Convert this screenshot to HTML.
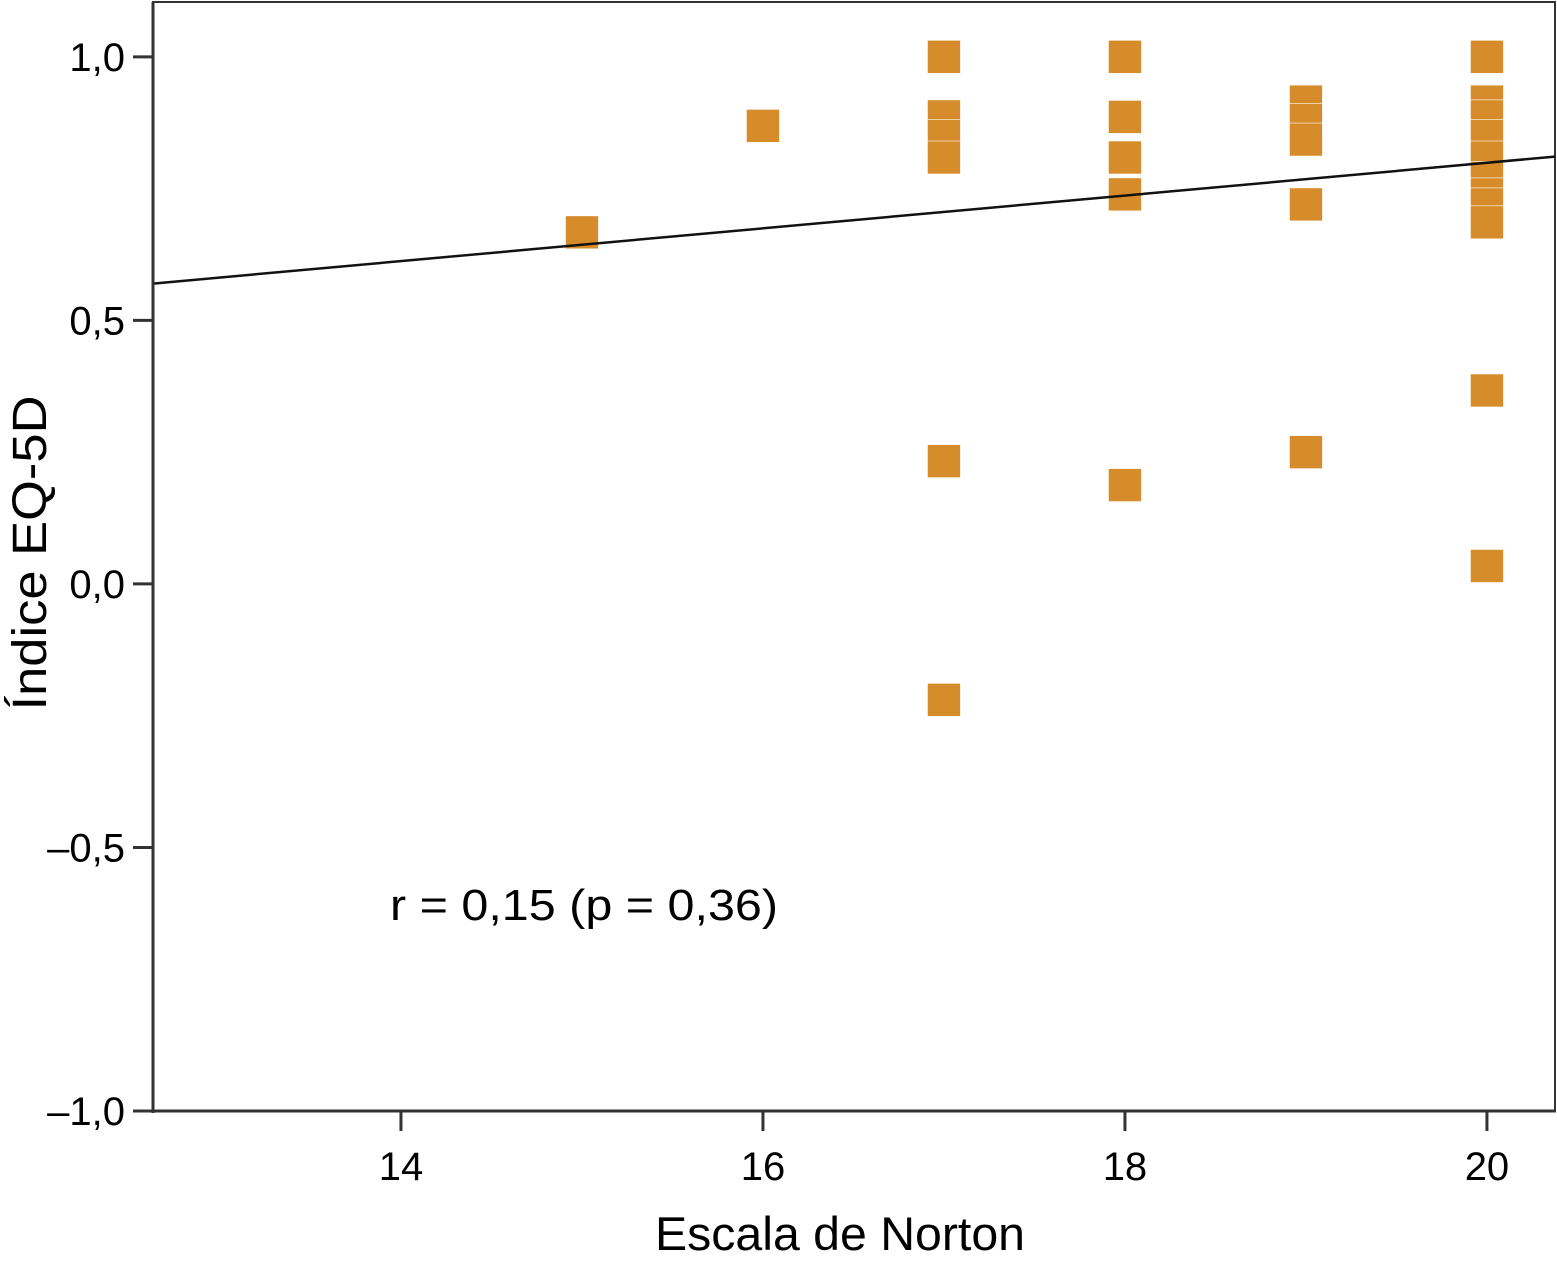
<!DOCTYPE html>
<html><head><meta charset="utf-8"><style>
html,body{margin:0;padding:0;background:#fff;}
svg{display:block;font-family:"Liberation Sans",Arial,sans-serif;}
</style></head><body>
<svg id="chart" width="1557" height="1272" viewBox="0 0 1557 1272">
<rect x="153" y="2" width="1402" height="1109" fill="#fff" stroke="#333" stroke-width="2"/>
<g id="marks"></g>
<g id="axes"></g>
<text x="390" y="920" font-size="44" textLength="388" lengthAdjust="spacingAndGlyphs" fill="#000">r = 0,15 (p = 0,36)</text>
<text x="840" y="1250" font-size="47" text-anchor="middle" textLength="370" lengthAdjust="spacingAndGlyphs" fill="#000">Escala de Norton</text>
<text transform="translate(46,553) rotate(-90)" font-size="48" text-anchor="middle" textLength="315" lengthAdjust="spacingAndGlyphs" fill="#000">Índice EQ-5D</text>
</svg>
<script>
const xs = [15,16,17,17,17,17,17,17,18,18,18,18,18,19,19,19,19,19,20,20,20,20,20,20,20,20,20,20,20];
const ys = [0.667,0.869,1.0,0.887,0.85,0.809,0.233,-0.22,1.0,0.886,0.809,0.739,0.1875,0.915,0.88,0.843,0.72,0.25,1.0,0.915,0.887,0.85,0.809,0.77,0.739,0.72,0.686,0.367,0.034];
const xTicks = [14,16,18,20];
const yTicks = [-1.0,-0.5,0.0,0.5,1.0];
const yTickLabels = ["\u20131,0","\u20130,5","0,0","0,5","1,0"];
const fitIntercept = 0.177;
const fitSlope = 0.0311;
const xMin = 12.63, xMax = 20.376, yMin = -1.0, yMax = 1.104;
const L=153,R=1555,T=2,B=1111;
function sx(v){return L+(v-xMin)/(xMax-xMin)*(R-L);}
function sy(v){return B-(v-yMin)/(yMax-yMin)*(B-T);}
const NS="http://www.w3.org/2000/svg";
const marks=document.getElementById('marks');
const axes=document.getElementById('axes');
const S=33;
xs.forEach((x,i)=>{
  const r=document.createElementNS(NS,'rect');
  r.setAttribute('x',sx(x)-S/2);r.setAttribute('y',sy(ys[i])-S/2);
  r.setAttribute('width',S);r.setAttribute('height',S);
  r.setAttribute('fill','#d68c2a');r.setAttribute('stroke','#fff');r.setAttribute('stroke-width','0.6');
  
  
  marks.appendChild(r);
});
const ln=document.createElementNS(NS,'line');
ln.setAttribute('x1',sx(xMin));ln.setAttribute('y1',sy(fitIntercept+fitSlope*xMin));
ln.setAttribute('x2',sx(xMax));ln.setAttribute('y2',sy(fitIntercept+fitSlope*xMax));
ln.setAttribute('stroke','#111');ln.setAttribute('stroke-width','2.5');


marks.appendChild(ln);
function line(x1,y1,x2,y2,w,name){
  const l=document.createElementNS(NS,'line');
  l.setAttribute('x1',x1);l.setAttribute('y1',y1);l.setAttribute('x2',x2);l.setAttribute('y2',y2);
  l.setAttribute('stroke','#333');l.setAttribute('stroke-width',w);
  
  
  axes.appendChild(l);
}
line(L,T,L,B+2,3,'y-axis-line');
line(L-20,B,R+1,B,3,'x-axis-line');
yTicks.forEach((v,i)=>{
  const y=sy(v);
  line(L-20,y,L,y,3,'y-tick');
  const t=document.createElementNS(NS,'text');
  t.setAttribute('x',L-28);t.setAttribute('y',y+14);t.setAttribute('font-size','40');t.setAttribute('text-anchor','end');
  t.textContent=yTickLabels[i];
  
  
  axes.appendChild(t);
});
xTicks.forEach(v=>{
  const x=sx(v);
  line(x,B,x,B+20,3,'x-tick');
  const t=document.createElementNS(NS,'text');
  t.setAttribute('x',x);t.setAttribute('y',B+69);t.setAttribute('font-size','40');t.setAttribute('text-anchor','middle');
  t.textContent=String(v);
  
  
  axes.appendChild(t);
});
</script>
</body></html>
